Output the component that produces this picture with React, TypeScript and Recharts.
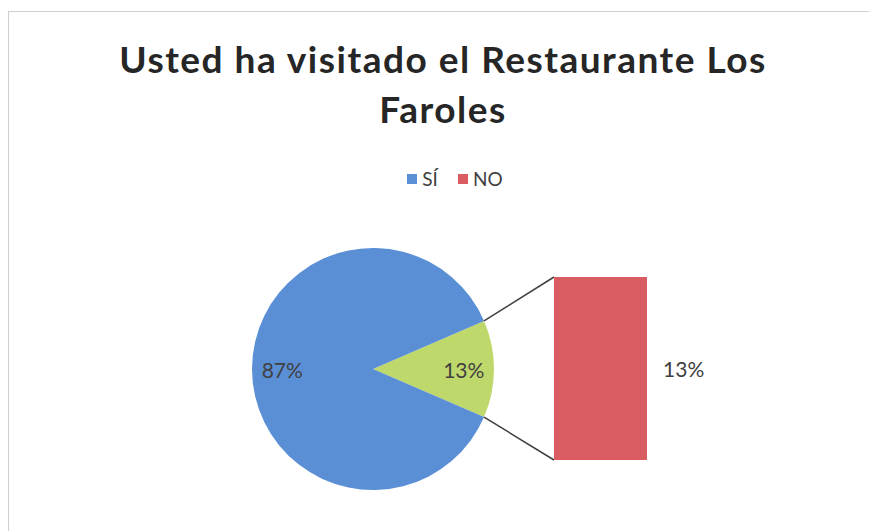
import { PieChart, Pie, Cell, BarChart, Bar, XAxis, YAxis } from "recharts";

const pieCategories = ["Otro", "SÍ"];
const pieValues = [13, 87];
const barCategories = ["NO"];
const barValues = [13];
const legendNames = ["SÍ", "NO"];

const BLUE = "#5B8FD5";
const GREEN = "#BFD86C";
const RED = "#D95C63";
const FONT = "Lato, 'Open Sans', sans-serif";

const W = 868;
const H = 519;
const PIE_CX = 364;
const PIE_CY = 357;
const PIE_R = 121;

const pieData = pieCategories.map((name, i) => ({ name, value: pieValues[i] }));
const barData = barCategories.map((name, i) => ({ name, value: barValues[i] }));
const pieTotal = pieValues.reduce((a, b) => a + b, 0);
const splitSweep = (pieValues[0] / pieTotal) * 360;
const legendColors: Record<string, string> = { "SÍ": BLUE, NO: RED };

const RAD = Math.PI / 180;

function renderPieLabel(props: any) {
  const { cx, cy, midAngle, outerRadius, percent } = props;
  const r = outerRadius * 0.75;
  const x = cx + r * Math.cos(-midAngle * RAD);
  const y = cy + r * Math.sin(-midAngle * RAD);
  return (
    <text x={x} y={y} textAnchor="middle" dominantBaseline="central" fill="#404040" fontSize={21} fontFamily={FONT}>
      {Math.round(percent * 100)}%
    </text>
  );
}

// bar plus the two connector lines back to the split slice
function BarWithConnectors(props: any) {
  const { x, y, width, height, fill } = props;
  const half = (splitSweep / 2) * RAD;
  const ex = PIE_CX + PIE_R * Math.cos(half);
  const eyTop = PIE_CY - PIE_R * Math.sin(half);
  const eyBot = PIE_CY + PIE_R * Math.sin(half);
  return (
    <g>
      <line x1={ex} y1={eyTop} x2={x} y2={y} stroke="#404040" strokeWidth={1.5} />
      <line x1={ex} y1={eyBot} x2={x} y2={y + height} stroke="#404040" strokeWidth={1.5} />
      <rect x={x} y={y} width={width} height={height} fill={fill} />
    </g>
  );
}

function renderBarLabel(props: any) {
  const { x, y, width, height, value } = props;
  return (
    <text x={x + width + 16} y={y + height / 2} dominantBaseline="central" fill="#404040" fontSize={21} fontFamily={FONT}>
      {Math.round((value / pieTotal) * 100)}%
    </text>
  );
}

export default function App() {
  return (
    <div
      style={{
        position: "relative",
        marginTop: 3,
        width: W,
        height: H,
        borderTop: "1px solid #cfcfcf",
        borderLeft: "1px solid #cfcfcf",
        background: "#fff",
      }}
    >
      <div
        style={{
          position: "absolute",
          top: 22,
          left: 0,
          width: W,
          textAlign: "center",
          fontFamily: FONT,
          fontWeight: 700,
          fontSize: 37,
          letterSpacing: 1.5,
          lineHeight: "50px",
          color: "#262626",
          whiteSpace: "nowrap",
        }}
      >
        Usted ha visitado el Restaurante Los
        <br />
        Faroles
      </div>
      <div
        style={{
          position: "absolute",
          top: 155,
          left: 12,
          width: W,
          display: "flex",
          justifyContent: "center",
          gap: 20,
          fontFamily: FONT,
          fontSize: 19,
          color: "#404040",
        }}
      >
        {legendNames.map((n) => (
          <div key={n} style={{ display: "flex", alignItems: "center", gap: 5 }}>
            <div style={{ width: 10, height: 10, background: legendColors[n] }} />
            <span>{n}</span>
          </div>
        ))}
      </div>
      <div style={{ position: "absolute", left: 0, top: 0 }}>
        <PieChart width={W} height={H} margin={{ top: 0, right: 0, bottom: 0, left: 0 }}>
          <Pie
            data={pieData}
            dataKey="value"
            nameKey="name"
            cx={PIE_CX}
            cy={PIE_CY}
            outerRadius={PIE_R}
            startAngle={-splitSweep / 2}
            endAngle={360 - splitSweep / 2}
            stroke="none"
            label={renderPieLabel}
            labelLine={false}
            isAnimationActive={false}
          >
            <Cell fill={GREEN} />
            <Cell fill={BLUE} />
          </Pie>
        </PieChart>
      </div>
      <div style={{ position: "absolute", left: 0, top: 0, pointerEvents: "none" }}>
        <BarChart
          width={W}
          height={H}
          data={barData}
          margin={{ left: 545, right: W - 638, top: 265, bottom: H - 448 }}
          barCategoryGap={0}
        >
          <XAxis dataKey="name" hide />
          <YAxis hide domain={[0, barValues[0]]} />
          <Bar dataKey="value" fill={RED} shape={BarWithConnectors} label={renderBarLabel} isAnimationActive={false} />
        </BarChart>
      </div>
    </div>
  );
}
